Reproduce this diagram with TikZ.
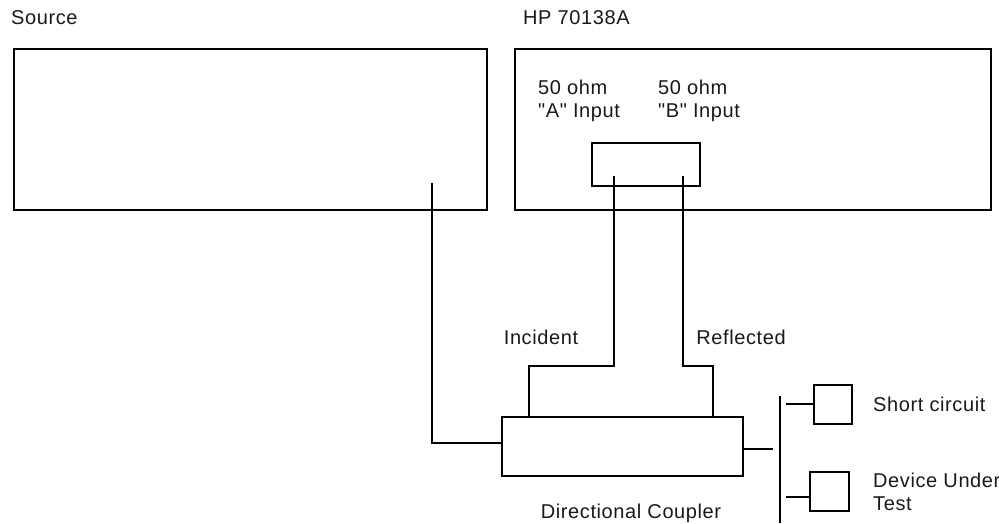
\documentclass[tikz,border=0pt]{standalone}
\usepackage{fontspec}
\newfontfamily\lblfont{Liberation Sans}[LetterSpace=3]
\begin{document}
\begin{tikzpicture}[x=1pt,y=-1pt,
  lbl/.style={font=\lblfont\fontsize{20}{23}\selectfont, inner sep=0pt, text=black!90},
  box/.style={draw, line width=1.4pt, inner sep=0pt, minimum width=#1},
  heavy/.style={line width=2.6pt},
  wire/.style={line width=1.3pt}]
\useasboundingbox (0,0) rectangle (999,523);

% boxes
\node[box=473pt, minimum height=161pt] (src) at (250.5,129.5) {};
\node[box=476pt, minimum height=161pt, heavy] (hp) at (753,129.5) {};
\node[box=108pt, minimum height=43pt, heavy] (ports) at (646,164.5) {};
\node[box=241pt, minimum height=59pt] (coupler) at (622.5,446.5) {};
\node[box=38pt, minimum height=39pt] (short) at (833,404.5) {};
\node[box=39pt, minimum height=39pt] (dut) at (829.5,491.5) {};

% labels
\node[lbl, anchor=west] (srclbl) at (11,18) {Source};
\node[lbl, anchor=west] (hplbl) at (523,18) {HP 70138A};
\node[lbl, anchor=west, align=left] (alabel) at (538,101) {50 ohm\\"A" Input};
\node[lbl, anchor=west, align=left] (blabel) at (658,101) {50 ohm\\"B" Input};
\node[lbl] (inc) at (541,337) {Incident};
\node[lbl] (refl) at (741,337) {Reflected};
\node[lbl] (dclbl) at (631,513) {Directional Coupler};
\node[lbl, anchor=west] (sclbl) at (873,404) {Short circuit};
\node[lbl, anchor=west, align=left] (dutlbl) at (873,492) {Device Under\\Test};

% connection points
\coordinate (srcport) at (432,183);
\coordinate (aport) at (614,176);
\coordinate (bport) at (683,176);
\coordinate (aturn) at (529,366);
\coordinate (bturn) at (713,366);
\coordinate (bartop) at (780,396);
\coordinate (barbot) at (780,523);
\coordinate (cstub) at (773,449);
\coordinate (sstub) at (786,404);
\coordinate (dstub) at (786,497);

% connectors
\draw[wire] (srcport) |- ([yshift=3.5pt]coupler.west);
\draw[wire] (aport) |- (aturn) -- (aturn |- coupler.north);
\draw[wire] (bport) |- (bturn) -- (bturn |- coupler.north);
\draw[wire] (cstub -| coupler.east) -- (cstub);
\draw[wire] (bartop) -- (barbot);
\draw[wire] (sstub) -- (sstub -| short.west);
\draw[wire] (dstub) -- (dstub -| dut.west);
\end{tikzpicture}
\end{document}
